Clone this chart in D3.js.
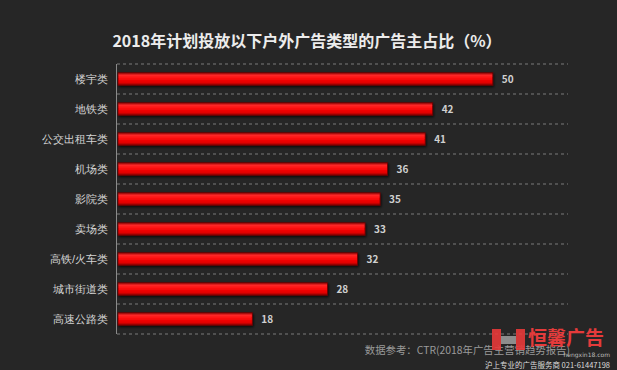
<!DOCTYPE html>
<html>
<head>
<meta charset="utf-8">
<script src="https://cdn.jsdelivr.net/npm/d3@7"></script>
<style>
  body { margin: 0; background: #262626; }
  svg { display: block; font-family: "Noto Sans CJK SC", "DejaVu Sans", sans-serif; }
</style>
</head>
<body>
<svg id="chart" width="617" height="370"></svg>
<script>
var categories = ["楼宇类", "地铁类", "公交出租车类", "机场类", "影院类", "卖场类", "高铁/火车类", "城市街道类", "高速公路类"];
var values = [50, 42, 41, 36, 35, 33, 32, 28, 18];
var title = "2018年计划投放以下户外广告类型的广告主占比（%）";
var source = "数据参考：CTR(2018年广告主营销趋势报告)";

var width = 617, height = 370;
var margin = {left: 117, right: 49, top: 64, bottom: 36};

var svg = d3.select("svg#chart");
svg.append("rect").attr("width", width).attr("height", height).attr("fill", "#262626");

var defs = svg.append("defs");
var grad = defs.append("linearGradient").attr("id", "barGrad")
    .attr("x1", 0).attr("y1", 0).attr("x2", 0).attr("y2", 1);
[["0%", "#8a0000"], ["20%", "#ff2a2a"], ["45%", "#ff0a0a"], ["80%", "#e00000"], ["100%", "#7a0000"]]
  .forEach(function(s) { grad.append("stop").attr("offset", s[0]).attr("stop-color", s[1]); });

var shadow = defs.append("filter").attr("id", "shadow")
    .attr("x", "-5%").attr("y", "-50%").attr("width", "110%").attr("height", "200%");
shadow.append("feDropShadow").attr("dx", 1).attr("dy", 1.5).attr("stdDeviation", 1)
    .attr("flood-color", "#000").attr("flood-opacity", 0.7);

var x = d3.scaleLinear().domain([0, 60]).range([margin.left, width - margin.right]);
var y = d3.scaleBand().domain(categories)
    .range([margin.top, height - margin.bottom])
    .paddingInner(0.58).paddingOuter(0.29);

// gridlines between categories
var step = y.step();
var gridY = d3.range(categories.length + 1).map(function(i) { return margin.top + i * step; });
svg.append("g").selectAll("line").data(gridY).enter().append("line")
    .attr("x1", x(0)).attr("x2", x(60))
    .attr("y1", function(d) { return d; }).attr("y2", function(d) { return d; })
    .attr("stroke", "#7a7a7a").attr("stroke-width", 1).attr("stroke-dasharray", "3,3");

// vertical axis line
svg.append("line")
    .attr("x1", x(0) - 0.5).attr("x2", x(0) - 0.5)
    .attr("y1", margin.top).attr("y2", height - margin.bottom)
    .attr("stroke", "#8a8a8a").attr("stroke-width", 1);

// category labels
var yAxis = d3.axisLeft(y).tickSize(0).tickPadding(9);
var ga = svg.append("g").attr("transform", "translate(" + x(0) + ",0)").call(yAxis);
ga.select(".domain").remove();
ga.selectAll("text").attr("fill", "#d4d4d4").style("font-size", "11px");

// bars
svg.append("g").selectAll("rect").data(values).enter().append("rect")
    .attr("x", x(0) + 1)
    .attr("y", function(d, i) { return y(categories[i]); })
    .attr("width", function(d) { return x(d) - x(0) - 1; })
    .attr("height", y.bandwidth())
    .attr("fill", "url(#barGrad)")
    .attr("stroke", "#6a0000").attr("stroke-width", 0.8)
    .attr("filter", "url(#shadow)");

// value labels
svg.append("g").selectAll("text").data(values).enter().append("text")
    .attr("x", function(d) { return x(d) + 9; })
    .attr("y", function(d, i) { return y(categories[i]) + y.bandwidth() / 2; })
    .attr("dy", "0.35em")
    .attr("fill", "#d0d0d0").style("font-size", "10px").style("font-weight", "bold")
    .text(function(d) { return d; });

// title
svg.append("text")
    .attr("x", 307).attr("y", 47)
    .attr("text-anchor", "middle")
    .attr("fill", "#ececec").style("font-size", "16px").style("font-weight", "bold")
    .text(title);

// source note (the watermark sits over its end, as in the original)
svg.append("text")
    .attr("x", 570).attr("y", 354)
    .attr("text-anchor", "end")
    .attr("fill", "#9a9a9a").style("font-size", "10.4px")
    .text(source);

// watermark
var wm = svg.append("g").attr("transform", "translate(492,329)");
wm.append("rect").attr("x", 0).attr("y", 0).attr("width", 9).attr("height", 21).attr("fill", "#e83a3a").attr("opacity", 0.9);
wm.append("rect").attr("x", 24).attr("y", 0).attr("width", 9).attr("height", 21).attr("fill", "#e83a3a").attr("opacity", 0.9);
wm.append("rect").attr("x", 9).attr("y", 7).attr("width", 15).attr("height", 8).attr("fill", "#999").attr("opacity", 0.9);
wm.append("text").attr("x", 36).attr("y", 16)
    .attr("fill", "#e53b3b").style("font-size", "19px").style("font-weight", "bold")
    .text("恒馨广告");
wm.append("text").attr("x", 118).attr("y", 28).attr("text-anchor", "end")
    .attr("fill", "#bbbbbb").style("font-family", "DejaVu Sans").style("font-size", "6px").text("hengxin18.com");
wm.append("text").attr("x", 118).attr("y", 38.5).attr("text-anchor", "end")
    .attr("fill", "#dddddd").style("font-size", "7.5px").text("沪上专业的广告服务商 021-61447198");
</script>
</body>
</html>
